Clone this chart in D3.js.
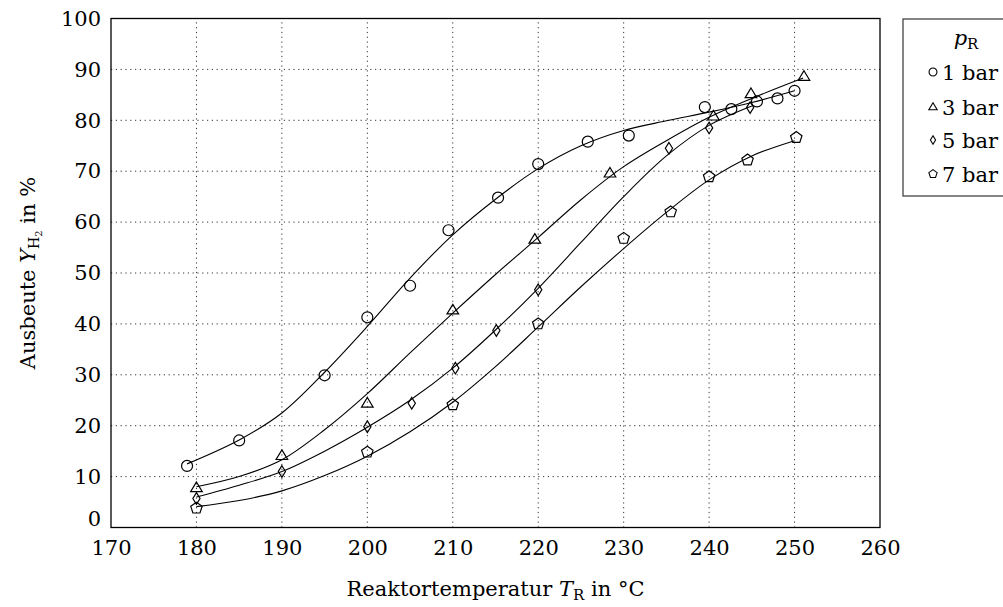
<!DOCTYPE html>
<html><head><meta charset="utf-8">
<script src="https://cdn.jsdelivr.net/npm/d3@7"></script>
<style>
body{margin:0;background:#fff;}
text{font-family:"DejaVu Serif",serif;fill:#000;}
</style></head>
<body><svg id="c" width="1003" height="607"></svg>
<script>
// ---- data ----
const xTicks = [170,180,190,200,210,220,230,240,250,260];
const yTicks = [0,10,20,30,40,50,60,70,80,90,100];
const seriesNames = ["1 bar","3 bar","5 bar","7 bar"];
const seriesShapes = ["circle","triangle","diamond","pentagon"];

// measured points (T in °C, Y in %)
const bar1T = [178.9,185,195,200,205,209.5,215.3,220,225.8,230.6,239.5,242.6,245.6,248,250];
const bar1Y = [12.1,17.1,29.9,41.3,47.5,58.4,64.8,71.4,75.8,77.0,82.6,82.2,83.7,84.3,85.8];
const bar3T = [180,190,200,210,219.6,228.4,240.5,244.9,251.1];
const bar3Y = [7.8,14.1,24.4,42.7,56.6,69.6,80.8,85.2,88.6];
const bar5T = [180,190,200,205.2,210.3,215.1,220,235.3,240,244.8];
const bar5Y = [5.7,11.0,19.8,24.4,31.3,38.7,46.7,74.5,78.5,82.5];
const bar7T = [180,200,210,220,230,235.5,240,244.5,250.2];
const bar7Y = [3.8,14.8,24.1,40.0,56.8,62.0,68.9,72.2,76.6];

// fitted curves
const fit1T = [178.9,185,190,195,200,205,210,215,220,225,230,235,240,245,250];
const fit1Y = [12.5,17.2,22.5,30.5,39.5,49.0,57.5,64.5,70.5,75.0,78.0,79.9,81.6,83.5,85.8];
const fit3T = [180,185,190,195,200,205,210,215,220,225,230,235,240,245,251];
const fit3Y = [8.0,10.0,13.3,19.2,26.3,34.3,42.1,49.7,57.0,64.4,70.9,76.0,80.6,84.3,88.3];
const fit5T = [180,185,190,195,200,205,210,215,220,225,230,235,240,245];
const fit5Y = [6.0,8.3,11.0,15.0,19.7,25.0,31.3,38.8,47.0,56.0,65.0,73.0,79.0,82.8];
const fit7T = [180,185,190,195,200,205,210,215,220,225,230,235,240,245,250];
const fit7Y = [4.1,5.3,7.2,10.2,14.0,18.8,24.6,31.6,39.4,47.3,54.8,61.9,68.3,73.0,76.0];

const pts = [[bar1T,bar1Y],[bar3T,bar3Y],[bar5T,bar5Y],[bar7T,bar7Y]];
const fits = [[fit1T,fit1Y],[fit3T,fit3Y],[fit5T,fit5Y],[fit7T,fit7Y]];

// ---- layout ----
const FS = 21;
const svg = d3.select("#c");
const x = d3.scaleLinear().domain([170,260]).range([111,880]);
const y = d3.scaleLinear().domain([0,100]).range([527.5,18.5]);

// grid
const grid = svg.append("g").attr("stroke","#333").attr("stroke-width",1).attr("stroke-dasharray","1.2,3.6").attr("fill","none");
xTicks.slice(1,-1).forEach(t=>grid.append("line").attr("x1",x(t)).attr("x2",x(t)).attr("y1",y(0)).attr("y2",y(100)));
yTicks.slice(1,-1).forEach(t=>grid.append("line").attr("x1",x(170)).attr("x2",x(260)).attr("y1",y(t)).attr("y2",y(t)));

// axes (d3 axes for labels, no tick lines)
const xAxis = d3.axisBottom(x).tickValues(xTicks).tickSize(0).tickPadding(13).tickFormat(d3.format("d"));
const gx = svg.append("g").attr("transform",`translate(0,${y(0)})`).call(xAxis);
gx.select(".domain").remove();
gx.selectAll("text").attr("font-size",FS).attr("fill","#000");

const yAxis = d3.axisLeft(y).tickValues(yTicks).tickSize(0).tickPadding(10).tickFormat(d3.format("d"));
const gy = svg.append("g").attr("transform",`translate(${x(170)},0)`).call(yAxis);
gy.select(".domain").remove();
gy.selectAll("text").attr("font-size",FS).attr("fill","#000");
gy.selectAll(".tick").filter(d=>d===0).select("text").attr("dy","-0.1em");

// frame
svg.append("rect").attr("x",x(170)).attr("y",y(100)).attr("width",x(260)-x(170)).attr("height",y(0)-y(100))
  .attr("fill","none").attr("stroke","#000").attr("stroke-width",1.3);

// markers
function shapePath(kind, s){
  if(kind==="circle"){ const r=5.5*s; return `M${r},0A${r},${r} 0 1,1 ${-r},0A${r},${r} 0 1,1 ${r},0Z`; }
  if(kind==="triangle"){ const a=5.8*s; return `M0,${-a}L${a},${a*0.65}L${-a},${a*0.65}Z`; }
  if(kind==="diamond"){ const w=3.6*s,h=5.8*s; return `M0,${-h}L${w},0L0,${h}L${-w},0Z`; }
  if(kind==="pentagon"){ const r=6*s; let p=[]; for(let i=0;i<5;i++){const a=-Math.PI/2+i*2*Math.PI/5; p.push([r*Math.cos(a),r*Math.sin(a)]);} return "M"+p.map(q=>q.join(",")).join("L")+"Z"; }
}

// fit lines
const line = d3.line().x(d=>x(d[0])).y(d=>y(d[1])).curve(d3.curveCatmullRom.alpha(0.5));
fits.forEach(([T,Y])=>{
  svg.append("path").datum(T.map((t,i)=>[t,Y[i]])).attr("d",line).attr("fill","none").attr("stroke","#000").attr("stroke-width",1.1);
});
pts.forEach(([T,Y],k)=>{
  svg.append("g").selectAll("path").data(T.map((t,i)=>[t,Y[i]])).join("path")
    .attr("transform",d=>`translate(${x(d[0])},${y(d[1])})`)
    .attr("d",shapePath(seriesShapes[k],1)).attr("fill","none").attr("stroke","#000").attr("stroke-width",1.2);
});

// axis titles
const xt = svg.append("text").attr("x",(x(170)+x(260))/2).attr("y",596).attr("text-anchor","middle").attr("font-size",FS);
xt.append("tspan").text("Reaktortemperatur ");
xt.append("tspan").attr("font-style","italic").text("T");
xt.append("tspan").attr("font-size",15).attr("dy",4).text("R");
xt.append("tspan").attr("dy",-4).text(" in °C");

const yt = svg.append("text").attr("transform",`translate(35,${(y(0)+y(100))/2}) rotate(-90)`).attr("text-anchor","middle").attr("font-size",FS);
yt.append("tspan").text("Ausbeute ");
yt.append("tspan").attr("font-style","italic").text("Y");
yt.append("tspan").attr("font-size",14).attr("dy",4).text("H");
yt.append("tspan").attr("font-size",10).attr("dy",3).text("2");
yt.append("tspan").attr("dy",-7).text(" in %");

// legend
const lg = svg.append("g");
lg.append("rect").attr("x",903).attr("y",19).attr("width",130).attr("height",177).attr("fill","#fff").attr("stroke","#444").attr("stroke-width",1.3);
const lt = lg.append("text").attr("x",966).attr("y",45).attr("text-anchor","middle").attr("font-size",FS);
lt.append("tspan").attr("font-style","italic").text("p");
lt.append("tspan").attr("font-size",15).attr("dy",4).text("R");
const rowY = [72,107,140,174];
seriesNames.forEach((n,i)=>{
  lg.append("path").attr("transform",`translate(933,${rowY[i]})`).attr("d",shapePath(seriesShapes[i],0.72)).attr("fill","none").attr("stroke","#000").attr("stroke-width",1.1);
  lg.append("text").attr("x",942).attr("y",rowY[i]+7.5).attr("font-size",FS).text(n);
});
</script></body></html>
